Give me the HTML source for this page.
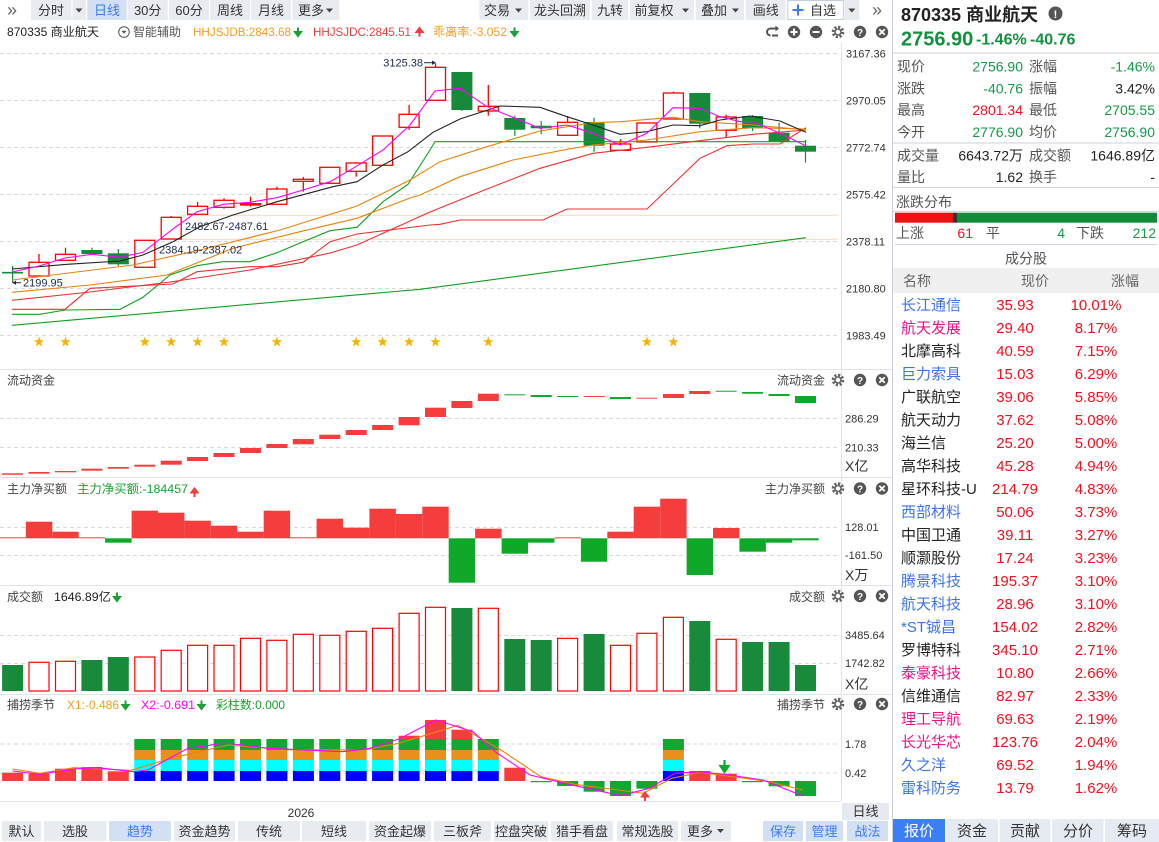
<!DOCTYPE html>
<html><head><meta charset="utf-8"><style>
html,body{margin:0;padding:0;background:#fff;}
body{width:1159px;height:842px;overflow:hidden;position:relative;}
svg{position:absolute;left:0;top:0;font-family:"Liberation Sans","Noto Sans CJK SC",sans-serif;}
</style></head><body>
<svg width="1159" height="842" viewBox="0 0 1159 842" xmlns="http://www.w3.org/2000/svg">
<defs>
<path id="st" d="M0,-5.5 L1.29,-1.78 L5.23,-1.7 L2.09,0.68 L3.23,4.45 L0,2.2 L-3.23,4.45 L-2.09,0.68 L-5.23,-1.7 L-1.29,-1.78 Z" fill="#f6b400"/>
</defs>
<rect width="1159" height="842" fill="#fff"/>

<!-- ========== TOP TOOLBAR ========== -->
<g font-size="13" fill="#333" text-anchor="middle">
<text x="12" y="16" font-size="18" fill="#666">»</text>
<rect x="31" y="0" width="40.5" height="20" fill="#e8ebf0"/><text x="51" y="15">分时</text>
<rect x="72.5" y="0" width="13.5" height="20" fill="#e8ebf0"/><polygon points="75.5,8.5 82.5,8.5 79,12.5" fill="#444"/>
<rect x="87.3" y="0" width="39.4" height="20" fill="#d3dff5"/><text x="107" y="15" fill="#3a7cf5">日线</text>
<rect x="127.7" y="0" width="40" height="20" fill="#e8ebf0"/><text x="147.7" y="15">30分</text>
<rect x="169" y="0" width="40" height="20" fill="#e8ebf0"/><text x="189" y="15">60分</text>
<rect x="210" y="0" width="40" height="20" fill="#e8ebf0"/><text x="230" y="15">周线</text>
<rect x="251" y="0" width="40" height="20" fill="#e8ebf0"/><text x="271" y="15">月线</text>
<rect x="292.3" y="0" width="47" height="20" fill="#e8ebf0"/><text x="311" y="15">更多</text><polygon points="326,8.5 333,8.5 329.5,12.5" fill="#444"/>

<rect x="479.3" y="0" width="49" height="20" fill="#e8ebf0"/><text x="497" y="15">交易</text><polygon points="515,8.5 522,8.5 518.5,12.5" fill="#444"/>
<rect x="530" y="0" width="60" height="20" fill="#e8ebf0"/><text x="560" y="15">龙头回溯</text>
<rect x="591.7" y="0" width="36.6" height="20" fill="#e8ebf0"/><text x="610" y="15">九转</text>
<rect x="630" y="0" width="64" height="20" fill="#e8ebf0"/><text x="654" y="15">前复权</text><polygon points="682,8.5 689,8.5 685.5,12.5" fill="#444"/>
<rect x="695.7" y="0" width="48.3" height="20" fill="#e8ebf0"/><text x="714" y="15">叠加</text><polygon points="732,8.5 739,8.5 735.5,12.5" fill="#444"/>
<rect x="745.7" y="0" width="40" height="20" fill="#e8ebf0"/><text x="765.7" y="15">画线</text>
<rect x="787.8" y="0.5" width="55.5" height="19" fill="#fff" stroke="#c4cde0"/>
<path d="M798,4.5 V15.5 M792.5,10 H803.5" stroke="#3a7cf5" stroke-width="2"/>
<text x="823" y="15">自选</text>
<rect x="844.3" y="0" width="15" height="20" fill="#e8ebf0"/><polygon points="848.3,8.5 855.3,8.5 851.8,12.5" fill="#444"/>
<text x="877" y="16" font-size="18" fill="#666">»</text>
</g>

<!-- ========== CHART HEADER ========== -->
<g font-size="12">
<text x="7" y="36" fill="#222" textLength="92" lengthAdjust="spacingAndGlyphs">870335 商业航天</text>
<circle cx="124" cy="32" r="5.3" fill="none" stroke="#555" stroke-width="1"/><polygon points="121.3,30.7 126.7,30.7 124,33.8" fill="#555"/>
<text x="133" y="36" fill="#555">智能辅助</text>
<text x="193" y="36" fill="#f0a020" textLength="98" lengthAdjust="spacingAndGlyphs">HHJSJDB:2843.68</text>
<path d="M298,27.5 V35 M295,32 L298,36 L301,32 Z" stroke="#1aa035" fill="#1aa035" stroke-width="2"/>
<text x="313" y="36" fill="#f03c3c" textLength="98" lengthAdjust="spacingAndGlyphs">HHJSJDC:2845.51</text>
<path d="M419.5,36.5 V29 M416.5,32 L419.5,28 L422.5,32 Z" stroke="#f03c3c" fill="#f03c3c" stroke-width="2"/>
<text x="433" y="36" fill="#f0a020" textLength="74" lengthAdjust="spacingAndGlyphs">乖离率:-3.052</text>
<path d="M514.5,27.5 V35 M511.5,32 L514.5,36 L517.5,32 Z" stroke="#1aa035" fill="#1aa035" stroke-width="2"/>
</g>
<!-- header icons -->
<g>
<path d="M777,28.5 H770.5 A3.5,3.5 0 0 0 770.5,35.5 V35.5" fill="none" stroke="#555" stroke-width="2"/>
<path d="M772,35.5 H778" stroke="#555" stroke-width="2"/>
<polygon points="775.5,25.5 779,28.5 775.5,31.5" fill="#555"/>
<circle cx="794" cy="32" r="6.2" fill="#555"/><path d="M790.5,32 H797.5 M794,28.5 V35.5" stroke="#fff" stroke-width="2"/>
<circle cx="816" cy="32" r="6.2" fill="#555"/><path d="M812.5,32 H819.5" stroke="#fff" stroke-width="2"/>
<circle cx="838" cy="32" r="4.8" fill="none" stroke="#666" stroke-width="3" stroke-dasharray="2.2,1.55"/><circle cx="838" cy="32" r="3" fill="none" stroke="#666" stroke-width="1.6"/>
<circle cx="860" cy="32" r="6.2" fill="#555"/><text x="860" y="36" font-size="10" font-weight="bold" fill="#fff" text-anchor="middle">?</text>
<circle cx="882" cy="32" r="6.2" fill="#555"/><path d="M879.3,29.3 L884.7,34.7 M884.7,29.3 L879.3,34.7" stroke="#fff" stroke-width="1.8"/>
</g>

<!-- ========== FRAMES ========== -->
<g stroke="#dfe2e8" stroke-width="1">
<line x1="841.5" y1="43" x2="841.5" y2="801"/>
<line x1="0" y1="369.5" x2="892" y2="369.5"/>
<line x1="0" y1="477.5" x2="892" y2="477.5"/>
<line x1="0" y1="585.5" x2="892" y2="585.5"/>
<line x1="0" y1="694.5" x2="892" y2="694.5"/>
<line x1="0" y1="801.5" x2="841" y2="801.5"/>
</g>
<line x1="892.5" y1="0" x2="892.5" y2="842" stroke="#c9cdd5"/>

<!-- ========== MAIN CHART GRID ========== -->
<g stroke="#d9d9d9" stroke-dasharray="4,3" stroke-width="1">
<line x1="0" y1="53.5" x2="840" y2="53.5"/>
<line x1="0" y1="100.5" x2="840" y2="100.5"/>
<line x1="0" y1="147.5" x2="840" y2="147.5"/>
<line x1="0" y1="194.5" x2="840" y2="194.5"/>
<line x1="0" y1="241.5" x2="840" y2="241.5"/>
<line x1="0" y1="288.5" x2="840" y2="288.5"/>
<line x1="0" y1="335.5" x2="840" y2="335.5"/>
</g>
<g font-size="11" fill="#333">
<text x="846" y="57.5">3167.36</text>
<text x="846" y="104.5">2970.05</text>
<text x="846" y="151.5">2772.74</text>
<text x="846" y="198.5">2575.42</text>
<text x="846" y="245.5">2378.11</text>
<text x="846" y="292.5">2180.80</text>
<text x="846" y="339.5">1983.49</text>
</g>
<!-- peach support lines -->
<line x1="182" y1="215.3" x2="838" y2="215.3" stroke="#fddcc0" stroke-width="1.2"/>
<line x1="160" y1="239.3" x2="838" y2="239.3" stroke="#fddcc0" stroke-width="1.2"/>

<!-- ========== CANDLES ========== -->
<g stroke="#168a3a" stroke-width="1.2" fill="#168a3a">
<line x1="2.1" y1="272.7" x2="23.1" y2="272.7" stroke-width="1.6"/>
<line x1="12.6" y1="266" x2="12.6" y2="283"/>
<line x1="91.9" y1="247.7" x2="91.9" y2="255"/><rect x="81.4" y="250" width="21" height="4" stroke="none"/>
<line x1="118.3" y1="249" x2="118.3" y2="266"/><rect x="107.8" y="253.3" width="21" height="11" stroke="none"/>
<line x1="461.9" y1="72" x2="461.9" y2="111"/><rect x="451.4" y="72" width="21" height="38" stroke="none"/>
<line x1="514.8" y1="115.7" x2="514.8" y2="136"/><rect x="504.3" y="118" width="21" height="11.7" stroke="none"/>
<line x1="541.2" y1="121" x2="541.2" y2="134.3"/><rect x="530.7" y="125.7" width="21" height="2.6" stroke="none"/>
<line x1="594.1" y1="117.7" x2="594.1" y2="151.7"/><rect x="583.6" y="122" width="21" height="23.7" stroke="none"/>
<line x1="699.8" y1="93" x2="699.8" y2="128.3"/><rect x="689.3" y="93" width="21" height="30.7" stroke="none"/>
<line x1="752.6" y1="115" x2="752.6" y2="131"/><rect x="742.1" y="116" width="21" height="12.3" stroke="none"/>
<line x1="779.1" y1="122.7" x2="779.1" y2="141.3"/><rect x="768.6" y="132.7" width="21" height="8.6" stroke="none"/>
<line x1="805.5" y1="140" x2="805.5" y2="162.7"/><rect x="795" y="145.7" width="21" height="6" stroke="none"/>
</g>
<g stroke="#f00" stroke-width="1.3" fill="#fff">
<line x1="39" y1="254" x2="39" y2="262.3"/><rect x="29" y="262.3" width="20" height="13.7"/>
<line x1="65.5" y1="247.7" x2="65.5" y2="254.3"/><rect x="55.5" y="254.3" width="20" height="6"/>
<rect x="134.8" y="240.3" width="20" height="27"/>
<line x1="171.2" y1="216" x2="171.2" y2="217.3"/><rect x="161.2" y="217.3" width="20" height="21.7"/>
<line x1="197.6" y1="202" x2="197.6" y2="215"/><rect x="187.6" y="206.3" width="20" height="8"/>
<line x1="224" y1="198.3" x2="224" y2="208.7"/><rect x="214" y="200.3" width="20" height="7"/>
<line x1="250.5" y1="196.7" x2="250.5" y2="206.7"/><rect x="240.5" y="203.7" width="20" height="1.3"/>
<line x1="276.9" y1="186.7" x2="276.9" y2="205"/><rect x="266.9" y="189" width="20" height="15.3"/>
<line x1="303.3" y1="177" x2="303.3" y2="191.7"/><rect x="293.3" y="179.3" width="20" height="2"/>
<line x1="329.8" y1="167" x2="329.8" y2="184"/><rect x="319.8" y="167.3" width="20" height="16"/>
<line x1="356.2" y1="162.3" x2="356.2" y2="176.7"/><rect x="346.2" y="163" width="20" height="8.3"/>
<rect x="372.6" y="136" width="20" height="29.3"/>
<line x1="409.1" y1="105" x2="409.1" y2="130"/><rect x="399.1" y="114.3" width="20" height="13"/>
<line x1="435.5" y1="63.3" x2="435.5" y2="67.3"/><rect x="425.5" y="67.3" width="20" height="33"/>
<line x1="488.3" y1="85" x2="488.3" y2="115.7"/><rect x="478.3" y="106.3" width="20" height="4.7"/>
<line x1="567.6" y1="116" x2="567.6" y2="122.3"/><rect x="557.6" y="122.3" width="20" height="13"/>
<line x1="620.5" y1="139.3" x2="620.5" y2="144"/><rect x="610.5" y="144" width="20" height="6.3"/>
<rect x="636.9" y="123" width="20" height="19"/>
<line x1="673.4" y1="91.7" x2="673.4" y2="93"/><rect x="663.4" y="93" width="20" height="26"/>
<line x1="726.2" y1="114.7" x2="726.2" y2="137.7"/><rect x="716.2" y="117" width="20" height="13.3"/>
</g>

<!-- ========== MA LINES ========== -->
<g fill="none" stroke-width="1.1">
<polyline stroke="#10a020" points="12,325.3 420,289.3 806,237.7"/>
<polyline stroke="#10a020" points="12,314.3 40,314.3 65,310 120,309.3 143,297.3 170,275 197,265.7 223,261.7 250,261.7 277,252.7 303,241.7 330,230.7 357,227.3 383,201.7 408,184.3 430,150 435,141.7 806,141.7"/>
<polyline stroke="#f03030" points="12,309.3 65,309.3 90,288.3 173,284 197,271.7 250,266.7 277,266.7 303,262.3 330,241.7 357,234 430,225 440,224.3 460,220 543,220 567,209 647,209 700,158.3 727,145.7 753,144 780,144 806,127.7"/>
<polyline stroke="#f03030" points="12,300.3 90,292 170,282 250,270 330,253 357,245 430,212 487,189 540,168.3 593,153.3 647,147.3 700,140.7 753,134.3 806,130"/>
<polyline stroke="#e8830c" points="12,292.3 90,285 167,275 233,248.3 300,231.7 357,218.3 410,198 420,195 460,176.7 513,160 567,149.3 593,145 647,140 700,131.7 753,127.7 806,129"/>
<polyline stroke="#e8830c" points="12,280 133,265 200,250 280,230 357,206 410,180 440,161.7 487,146.7 540,131 593,122.7 620,121.7 673,117.3 700,121.7 753,125 806,130"/>
<polyline stroke="#222" points="12,269 67,264.3 120,261 143,255 173,241.7 200,226.7 233,215 277,201.7 333,186.7 357,181.7 383,165 408,151.7 433,132.3 460,119 500,106 540,107.3 567,116.7 593,125 620,134.3 647,131.7 673,125 700,125.7 720,120 750,116 780,121 806,132.3"/>
<polyline stroke="#ff00ff" points="12,272 39,266 65,258 92,254.3 120,257.3 143,252.3 173,229 197,211.7 223,204.3 250,202.3 277,197.7 303,190 330,181.7 353,168.3 383,150 410,125 435,91 460,88.3 487,106.7 507,115 540,128.3 567,125 593,133.3 620,145 647,133.3 673,107.7 700,108.3 720,116.7 740,121.7 753,121.7 780,133.3 806,146"/>
</g>

<!-- annotations -->
<g font-size="11" fill="#1d2b4f">
<text x="423" y="66.5" text-anchor="end">3125.38</text>
<line x1="424" y1="62.7" x2="433" y2="62.7" stroke="#1d2b4f"/><polygon points="432,60.5 436,62.7 432,64.9" fill="#1d2b4f"/>
<text x="185" y="230">2482.67-2487.61</text>
<text x="159" y="253.5">2384.19-2387.02</text>
<line x1="13" y1="282.7" x2="21" y2="282.7" stroke="#1d2b4f"/><polygon points="16,280.5 12.5,282.7 16,284.9" fill="#1d2b4f"/>
<text x="23" y="286.5">2199.95</text>
</g>

<!-- stars -->
<g>
<use href="#st" x="39" y="342"/><use href="#st" x="65.5" y="342"/><use href="#st" x="144.8" y="342"/><use href="#st" x="171.2" y="342"/><use href="#st" x="197.6" y="342"/><use href="#st" x="224" y="342"/><use href="#st" x="276.9" y="342"/><use href="#st" x="356.2" y="342"/><use href="#st" x="382.6" y="342"/><use href="#st" x="409.1" y="342"/><use href="#st" x="435.5" y="342"/><use href="#st" x="488.3" y="342"/><use href="#st" x="646.9" y="342"/><use href="#st" x="673.4" y="342"/>
</g>

<!-- ========== PANEL HEADER ICONS (reusable drawing) ========== -->
<g id="icons1">
<circle cx="838" cy="380" r="4.8" fill="none" stroke="#666" stroke-width="3" stroke-dasharray="2.2,1.55"/><circle cx="838" cy="380" r="3" fill="none" stroke="#666" stroke-width="1.6"/>
<circle cx="860" cy="380" r="6.2" fill="#555"/><text x="860" y="384" font-size="10" font-weight="bold" fill="#fff" text-anchor="middle">?</text>
<circle cx="882" cy="380" r="6.2" fill="#555"/><path d="M879.3,377.3 L884.7,382.7 M884.7,377.3 L879.3,382.7" stroke="#fff" stroke-width="1.8"/>
</g>
<use href="#icons1" x="0" y="108.5"/>
<use href="#icons1" x="0" y="216"/>
<use href="#icons1" x="0" y="324"/>

<!-- ========== 流动资金 ========== -->
<g font-size="12" fill="#444">
<text x="7" y="384.5">流动资金</text>
<text x="777" y="384.5">流动资金</text>
</g>
<g stroke="#d9d9d9" stroke-dasharray="4,3"><line x1="0" y1="418.5" x2="840" y2="418.5"/><line x1="0" y1="447.5" x2="840" y2="447.5"/></g>
<g font-size="11" fill="#333"><text x="845" y="422.5">286.29</text><text x="845" y="451.5">210.33</text><text x="845" y="471" font-size="14">X亿</text></g>
<g fill="#f53d3d">
<rect x="2.1" y="473.3" width="21" height="1.5"/><rect x="28.5" y="472" width="21" height="1.7"/><rect x="55" y="471" width="21" height="1.3"/><rect x="81.4" y="468.7" width="21" height="2"/><rect x="107.8" y="467" width="21" height="1.7"/><rect x="134.3" y="464.7" width="21" height="2"/><rect x="160.7" y="460.7" width="21" height="4"/><rect x="187.1" y="457" width="21" height="4"/><rect x="213.5" y="453" width="21" height="4"/><rect x="240" y="448" width="21" height="5"/><rect x="266.4" y="444" width="21" height="4"/><rect x="292.8" y="439" width="21" height="5.3"/><rect x="319.3" y="434.7" width="21" height="4.3"/><rect x="345.7" y="430" width="21" height="5"/><rect x="372.1" y="425" width="21" height="5"/><rect x="398.6" y="417" width="21" height="8.3"/><rect x="425" y="407.7" width="21" height="9.3"/><rect x="451.4" y="401" width="21" height="7"/><rect x="477.8" y="393.7" width="21" height="7.3"/>
<rect x="583.6" y="396" width="21" height="1"/><rect x="636.4" y="397.7" width="21" height="1"/><rect x="662.9" y="394" width="21" height="4"/><rect x="689.3" y="391" width="21" height="3"/>
</g>
<g fill="#10a828">
<rect x="504.3" y="394.3" width="21" height="1"/><rect x="530.7" y="395" width="21" height="2"/><rect x="557.1" y="396" width="21" height="1"/><rect x="610" y="397" width="21" height="2"/><rect x="715.7" y="390.7" width="21" height="1"/><rect x="742.1" y="392" width="21" height="1.7"/><rect x="768.6" y="394" width="21" height="2"/><rect x="795" y="396" width="21" height="7"/>
</g>

<!-- ========== 主力净买额 ========== -->
<g font-size="12">
<text x="7" y="493" fill="#444">主力净买额</text>
<text x="77" y="493" fill="#18a030" textLength="111" lengthAdjust="spacingAndGlyphs">主力净买额:-184457</text>
<path d="M194.5,497 V489.5 M191.5,492.5 L194.5,488.5 L197.5,492.5 Z" stroke="#f03c3c" fill="#f03c3c" stroke-width="2"/>
<text x="765" y="493" fill="#444">主力净买额</text>
</g>
<g stroke="#d9d9d9" stroke-dasharray="4,3"><line x1="0" y1="527.5" x2="840" y2="527.5"/><line x1="0" y1="555.5" x2="840" y2="555.5"/></g>
<g font-size="11" fill="#333"><text x="845" y="531">128.01</text><text x="845" y="559">-161.50</text><text x="845" y="580" font-size="14">X万</text></g>
<g fill="#f53d3d">
<rect x="0" y="537.3" width="25.8" height="1"/><rect x="25.8" y="521.7" width="26.5" height="16.6"/><rect x="52.3" y="531.7" width="26.4" height="6.6"/><rect x="78.7" y="537.3" width="26.4" height="1"/>
<rect x="131.6" y="510.7" width="26.4" height="27.6"/><rect x="158" y="512.7" width="26.4" height="25.6"/><rect x="184.4" y="520.7" width="26.4" height="17.6"/><rect x="210.8" y="525.7" width="26.5" height="12.6"/><rect x="237.3" y="531.7" width="26.4" height="6.6"/><rect x="263.7" y="510.7" width="26.4" height="27.6"/><rect x="290.1" y="537.3" width="26.5" height="1"/><rect x="316.6" y="518.7" width="26.4" height="19.6"/><rect x="343" y="527.7" width="26.4" height="10.6"/><rect x="369.4" y="508.7" width="26.5" height="29.6"/><rect x="395.9" y="514" width="26.4" height="24.3"/><rect x="422.3" y="506.7" width="26.4" height="31.6"/>
<rect x="475.1" y="528.7" width="26.5" height="9.6"/><rect x="554.4" y="537.3" width="26.5" height="1"/><rect x="607.3" y="531.7" width="26.4" height="6.6"/><rect x="633.7" y="506.7" width="26.5" height="31.6"/><rect x="660.2" y="498.7" width="26.4" height="39.6"/><rect x="713" y="528" width="26.4" height="10.3"/>
</g>
<g fill="#10a828">
<rect x="105.1" y="538.3" width="26.5" height="4.4"/><rect x="448.7" y="538.3" width="26.4" height="44.4"/><rect x="501.6" y="538.3" width="26.4" height="15.4"/><rect x="528" y="538.3" width="26.4" height="4.4"/><rect x="580.9" y="538.3" width="26.4" height="23.4"/><rect x="686.6" y="538.3" width="26.4" height="36.7"/><rect x="739.4" y="538.3" width="26.5" height="13.4"/><rect x="765.9" y="538.3" width="26.4" height="4.4"/><rect x="792.3" y="538.3" width="26.4" height="2"/>
</g>

<!-- ========== 成交额 ========== -->
<g font-size="12">
<text x="7" y="601" fill="#444">成交额</text>
<text x="54" y="601" fill="#222" textLength="57" lengthAdjust="spacingAndGlyphs">1646.89亿</text>
<path d="M117,592.5 V600 M114,597 L117,601 L120,597 Z" stroke="#1aa035" fill="#1aa035" stroke-width="2"/>
<text x="789" y="601" fill="#444">成交额</text>
</g>
<g stroke="#d9d9d9" stroke-dasharray="4,3"><line x1="0" y1="635.5" x2="840" y2="635.5"/><line x1="0" y1="663.5" x2="840" y2="663.5"/></g>
<g font-size="11" fill="#333"><text x="845" y="639">3485.64</text><text x="845" y="667">1742.82</text><text x="845" y="689" font-size="14">X亿</text></g>
<g fill="#188a3c">
<rect x="2.1" y="665" width="21" height="26"/><rect x="81.4" y="660" width="21" height="31"/><rect x="107.8" y="657" width="21" height="34"/><rect x="451.4" y="608" width="21" height="83"/><rect x="504.3" y="639" width="21" height="52"/><rect x="530.7" y="640" width="21" height="51"/><rect x="583.6" y="634" width="21" height="57"/><rect x="689.3" y="621" width="21" height="70"/><rect x="742.1" y="642" width="21" height="49"/><rect x="768.6" y="642" width="21" height="49"/><rect x="795" y="665" width="21" height="26"/>
</g>
<g fill="#fff" stroke="#f00" stroke-width="1.2">
<rect x="29" y="662.3" width="20" height="28.7"/><rect x="55.5" y="661.3" width="20" height="29.7"/><rect x="134.8" y="657" width="20" height="34"/><rect x="161.2" y="650.3" width="20" height="40.7"/><rect x="187.6" y="645.3" width="20" height="45.7"/><rect x="214" y="645.3" width="20" height="45.7"/><rect x="240.5" y="638.3" width="20" height="52.7"/><rect x="266.9" y="640.3" width="20" height="50.7"/><rect x="293.3" y="634.3" width="20" height="56.7"/><rect x="319.8" y="635.3" width="20" height="55.7"/><rect x="346.2" y="631.3" width="20" height="59.7"/><rect x="372.6" y="628.3" width="20" height="62.7"/><rect x="399.1" y="613.3" width="20" height="77.7"/><rect x="425.5" y="607.3" width="20" height="83.7"/><rect x="478.3" y="608.3" width="20" height="82.7"/><rect x="557.6" y="638.3" width="20" height="52.7"/><rect x="610.5" y="645.3" width="20" height="45.7"/><rect x="636.9" y="633.3" width="20" height="57.7"/><rect x="663.4" y="617.3" width="20" height="73.7"/><rect x="716.2" y="639.3" width="20" height="51.7"/>
</g>

<!-- ========== 捕捞季节 ========== -->
<g font-size="12">
<text x="7" y="709" fill="#444">捕捞季节</text>
<text x="67" y="709" fill="#f0a020" textLength="52" lengthAdjust="spacingAndGlyphs">X1:-0.486</text>
<path d="M125.5,700.5 V708 M122.5,705 L125.5,709 L128.5,705 Z" stroke="#1aa035" fill="#1aa035" stroke-width="2"/>
<text x="141" y="709" fill="#ff00ff" textLength="54" lengthAdjust="spacingAndGlyphs">X2:-0.691</text>
<path d="M201.5,700.5 V708 M198.5,705 L201.5,709 L204.5,705 Z" stroke="#1aa035" fill="#1aa035" stroke-width="2"/>
<text x="216" y="709" fill="#18a030" textLength="69" lengthAdjust="spacingAndGlyphs">彩柱数:0.000</text>
<text x="777" y="709" fill="#444">捕捞季节</text>
</g>
<g stroke="#d9d9d9" stroke-dasharray="4,3"><line x1="0" y1="744" x2="840" y2="744"/><line x1="0" y1="773" x2="840" y2="773"/></g>
<g font-size="11" fill="#333"><text x="845" y="748">1.78</text><text x="845" y="777">0.42</text></g>
<g fill="#f53d3d">
<rect x="2.1" y="772.7" width="21" height="8.3"/><rect x="28.5" y="773.7" width="21" height="7.3"/><rect x="55" y="768.7" width="21" height="12.3"/><rect x="81.4" y="767" width="21" height="14"/><rect x="107.8" y="771.3" width="21" height="9.7"/>
<rect x="398.6" y="735.7" width="21" height="3.3"/><rect x="425" y="720" width="21" height="19"/><rect x="451.4" y="729.7" width="21" height="9.3"/>
<rect x="504.3" y="767.7" width="21" height="13.3"/><rect x="689.3" y="771" width="21" height="10"/><rect x="715.7" y="773.7" width="21" height="7.3"/>
</g>
<g id="stk">
<rect x="134.3" y="771" width="21" height="10" fill="#0000ff"/>
<rect x="134.3" y="760" width="21" height="11" fill="#00ffff"/>
<rect x="134.3" y="750" width="21" height="10" fill="#e8901a"/>
<rect x="134.3" y="739" width="21" height="11" fill="#10a830"/>
</g>
<use href="#stk" x="26.4"/><use href="#stk" x="52.9"/><use href="#stk" x="79.3"/><use href="#stk" x="105.7"/><use href="#stk" x="132.1"/><use href="#stk" x="158.6"/><use href="#stk" x="185"/><use href="#stk" x="211.4"/><use href="#stk" x="237.8"/><use href="#stk" x="264.3"/><use href="#stk" x="290.7"/><use href="#stk" x="317.1"/><use href="#stk" x="343.5"/><use href="#stk" x="528.6"/>
<g fill="#10a830">
<rect x="530.7" y="781" width="21" height="1.2"/><rect x="557.1" y="781" width="21" height="5"/><rect x="583.6" y="781" width="21" height="10.7"/><rect x="610" y="781" width="21" height="15"/><rect x="636.4" y="781" width="21" height="7.7"/><rect x="742.1" y="781" width="21" height="1.2"/><rect x="768.6" y="781" width="21" height="5.3"/><rect x="795" y="781" width="21" height="15"/>
</g>
<g fill="none" stroke-width="1.1">
<polyline stroke="#e8830c" points="12.5,769 40,773.3 74,767.7 131,770.3 171,758.3 228,745 285,749.7 364,750 399,743.3 458,725.3 501,750 541,776.7 575,784.3 643,793.3 672,778.3 700,772.3 740,777.7 769,781.7 803,790"/>
<polyline stroke="#ff00ff" points="12.5,771 40,774.3 74,769 97,767.7 134,771.7 148,770 188,748.3 225,743 268,748.3 342,751.7 370,748.3 399,739 436,720 473,731.7 495,751.7 530,775 569,784.3 621,795.7 649,788.3 675,773.3 700,771.7 729,775 763,780 803,796"/>
</g>
<path d="M645,801 V795 M642,796.5 L645,792.5 L648,796.5 Z" stroke="#f53d3d" fill="#f53d3d" stroke-width="2"/>
<path d="M724.5,760 V768 M720.5,766 L724.5,772 L728.5,766 Z" stroke="#10a830" fill="#10a830" stroke-width="2.2"/>

<!-- ========== X AXIS & BOTTOM TOOLBAR ========== -->
<text x="301" y="817" font-size="12" fill="#333" text-anchor="middle">2026</text>
<rect x="842" y="803" width="47" height="17" fill="#e6e9ef"/>
<text x="865.5" y="816" font-size="13" fill="#333" text-anchor="middle">日线</text>
<g font-size="13" fill="#333" text-anchor="middle">
<rect x="2" y="821" width="39" height="20" fill="#e8ebf0"/><text x="21.5" y="836">默认</text>
<rect x="44" y="821" width="62.5" height="20" fill="#e8ebf0"/><text x="75" y="836">选股</text>
<rect x="109" y="821" width="62" height="20" fill="#d3dff5"/><text x="140" y="836" fill="#3a7cf5">趋势</text>
<rect x="174" y="821" width="61" height="20" fill="#e8ebf0"/><text x="204.5" y="836">资金趋势</text>
<rect x="238" y="821" width="62" height="20" fill="#e8ebf0"/><text x="269" y="836">传统</text>
<rect x="302" y="821" width="64" height="20" fill="#e8ebf0"/><text x="334" y="836">短线</text>
<rect x="369" y="821" width="62" height="20" fill="#e8ebf0"/><text x="400" y="836">资金起爆</text>
<rect x="434" y="821" width="57" height="20" fill="#e8ebf0"/><text x="462.5" y="836">三板斧</text>
<rect x="494" y="821" width="54" height="20" fill="#e8ebf0"/><text x="521" y="836">控盘突破</text>
<rect x="551" y="821" width="62" height="20" fill="#e8ebf0"/><text x="582" y="836">猎手看盘</text>
<rect x="617" y="821" width="61" height="20" fill="#e8ebf0"/><text x="647.5" y="836">常规选股</text>
<rect x="681" y="821" width="50" height="20" fill="#e8ebf0"/><text x="700" y="836">更多</text><polygon points="717,829 724,829 720.5,833" fill="#444"/>
<rect x="763" y="821" width="40" height="20" fill="#d3dff5"/><text x="783" y="836" fill="#3a7cf5">保存</text>
<rect x="806" y="821" width="37" height="20" fill="#d3dff5"/><text x="824.5" y="836" fill="#3a7cf5">管理</text>
<rect x="847" y="821" width="41" height="20" fill="#d3dff5"/><text x="867.5" y="836" fill="#3a7cf5">战法</text>
</g>

<!-- ========== RIGHT PANEL ========== -->
<text x="901" y="21" font-size="18" font-weight="bold" fill="#222">870335 商业航天</text>
<circle cx="1055.5" cy="13.5" r="7" fill="#555"/><text x="1055.5" y="18" font-size="11" font-weight="bold" fill="#fff" text-anchor="middle">!</text>
<g fill="#14913f" font-weight="bold">
<text x="901" y="45.5" font-size="20">2756.90</text>
<text x="976" y="44.5" font-size="16">-1.46%</text>
<text x="1030" y="44.5" font-size="16">-40.76</text>
</g>
<g stroke="#d5d9e3" stroke-width="1.3">
<line x1="893" y1="53" x2="1159" y2="53"/>
<line x1="893" y1="143" x2="1159" y2="143"/>
<line x1="893" y1="187.5" x2="1159" y2="187.5"/>
<line x1="893" y1="211.5" x2="1159" y2="211.5"/>
<line x1="895" y1="244.5" x2="1157" y2="244.5"/>
</g>
<g font-size="14">
<g fill="#555">
<text x="897" y="71.5">现价</text><text x="1029" y="71.5">涨幅</text>
<text x="897" y="93.5">涨跌</text><text x="1029" y="93.5">振幅</text>
<text x="897" y="115">最高</text><text x="1029" y="115">最低</text>
<text x="897" y="137">今开</text><text x="1029" y="137">均价</text>
<text x="897" y="160.5">成交量</text><text x="1029" y="160.5">成交额</text>
<text x="897" y="182">量比</text><text x="1029" y="182">换手</text>
<text x="896" y="207">涨跌分布</text>
<text x="896" y="238">上涨</text><text x="986" y="238">平</text><text x="1076" y="238">下跌</text>
</g>
<g text-anchor="end">
<text x="1023" y="71.5" fill="#16994a">2756.90</text><text x="1155" y="71.5" fill="#16994a">-1.46%</text>
<text x="1023" y="93.5" fill="#16994a">-40.76</text><text x="1155" y="93.5" fill="#222">3.42%</text>
<text x="1023" y="115" fill="#ee1122">2801.34</text><text x="1155" y="115" fill="#16994a">2705.55</text>
<text x="1023" y="137" fill="#16994a">2776.90</text><text x="1155" y="137" fill="#16994a">2756.90</text>
<text x="1023" y="160.5" fill="#222">6643.72万</text><text x="1155" y="160.5" fill="#222">1646.89亿</text>
<text x="1023" y="182" fill="#222">1.62</text><text x="1155" y="182" fill="#222">-</text>
<text x="973" y="238" fill="#ee1122">61</text>
<text x="1065" y="238" fill="#16994a">4</text>
<text x="1156" y="238" fill="#16994a">212</text>
</g>
</g>
<rect x="895" y="212.7" width="58" height="10" fill="#ee1111"/>
<rect x="953" y="212.7" width="4" height="10" fill="#333"/>
<rect x="957" y="212.7" width="200" height="10" fill="#158a3a"/>
<text x="1026" y="263.5" font-size="14" fill="#555" text-anchor="middle">成分股</text>
<rect x="893" y="268" width="266" height="25" fill="#f0f0f0"/>
<g font-size="14" fill="#666">
<text x="903" y="286">名称</text><text x="1021" y="286">现价</text><text x="1111" y="286">涨幅</text>
</g>
<g font-size="15">
<g>
<text x="901" y="310" fill="#3d74e8">长江通信</text>
<text x="901" y="333" fill="#e8158a">航天发展</text>
<text x="901" y="356" fill="#222">北摩高科</text>
<text x="901" y="379" fill="#3d74e8">巨力索具</text>
<text x="901" y="402" fill="#222">广联航空</text>
<text x="901" y="425" fill="#222">航天动力</text>
<text x="901" y="448" fill="#222">海兰信</text>
<text x="901" y="471" fill="#222">高华科技</text>
<text x="901" y="494" fill="#222">星环科技-U</text>
<text x="901" y="517" fill="#3d74e8">西部材料</text>
<text x="901" y="540" fill="#222">中国卫通</text>
<text x="901" y="563" fill="#222">顺灏股份</text>
<text x="901" y="586" fill="#3d74e8">腾景科技</text>
<text x="901" y="609" fill="#3d74e8">航天科技</text>
<text x="901" y="632" fill="#3d74e8">*ST铖昌</text>
<text x="901" y="655" fill="#222">罗博特科</text>
<text x="901" y="678" fill="#e8158a">泰豪科技</text>
<text x="901" y="701" fill="#222">信维通信</text>
<text x="901" y="724" fill="#e8158a">理工导航</text>
<text x="901" y="747" fill="#e8158a">长光华芯</text>
<text x="901" y="770" fill="#3d74e8">久之洋</text>
<text x="901" y="793" fill="#3d74e8">雷科防务</text>
</g>
<g fill="#f01020" text-anchor="middle">
<text x="1015" y="310">35.93</text><text x="1096" y="310">10.01%</text>
<text x="1015" y="333">29.40</text><text x="1096" y="333">8.17%</text>
<text x="1015" y="356">40.59</text><text x="1096" y="356">7.15%</text>
<text x="1015" y="379">15.03</text><text x="1096" y="379">6.29%</text>
<text x="1015" y="402">39.06</text><text x="1096" y="402">5.85%</text>
<text x="1015" y="425">37.62</text><text x="1096" y="425">5.08%</text>
<text x="1015" y="448">25.20</text><text x="1096" y="448">5.00%</text>
<text x="1015" y="471">45.28</text><text x="1096" y="471">4.94%</text>
<text x="1015" y="494">214.79</text><text x="1096" y="494">4.83%</text>
<text x="1015" y="517">50.06</text><text x="1096" y="517">3.73%</text>
<text x="1015" y="540">39.11</text><text x="1096" y="540">3.27%</text>
<text x="1015" y="563">17.24</text><text x="1096" y="563">3.23%</text>
<text x="1015" y="586">195.37</text><text x="1096" y="586">3.10%</text>
<text x="1015" y="609">28.96</text><text x="1096" y="609">3.10%</text>
<text x="1015" y="632">154.02</text><text x="1096" y="632">2.82%</text>
<text x="1015" y="655">345.10</text><text x="1096" y="655">2.71%</text>
<text x="1015" y="678">10.80</text><text x="1096" y="678">2.66%</text>
<text x="1015" y="701">82.97</text><text x="1096" y="701">2.33%</text>
<text x="1015" y="724">69.63</text><text x="1096" y="724">2.19%</text>
<text x="1015" y="747">123.76</text><text x="1096" y="747">2.04%</text>
<text x="1015" y="770">69.52</text><text x="1096" y="770">1.94%</text>
<text x="1015" y="793">13.79</text><text x="1096" y="793">1.62%</text>
</g>
</g>
<!-- bottom tabs -->
<g font-size="15" text-anchor="middle">
<rect x="893" y="819" width="52" height="23" fill="#3b7ef6"/><text x="919" y="836" fill="#fff">报价</text>
<rect x="946.5" y="819" width="51.5" height="23" fill="#e6eaf2"/><text x="972" y="836" fill="#333">资金</text>
<rect x="999.5" y="819" width="51" height="23" fill="#e6eaf2"/><text x="1025" y="836" fill="#333">贡献</text>
<rect x="1052" y="819" width="51.5" height="23" fill="#e6eaf2"/><text x="1078" y="836" fill="#333">分价</text>
<rect x="1105" y="819" width="54" height="23" fill="#e6eaf2"/><text x="1132" y="836" fill="#333">筹码</text>
</g>
</svg>
</body></html>
